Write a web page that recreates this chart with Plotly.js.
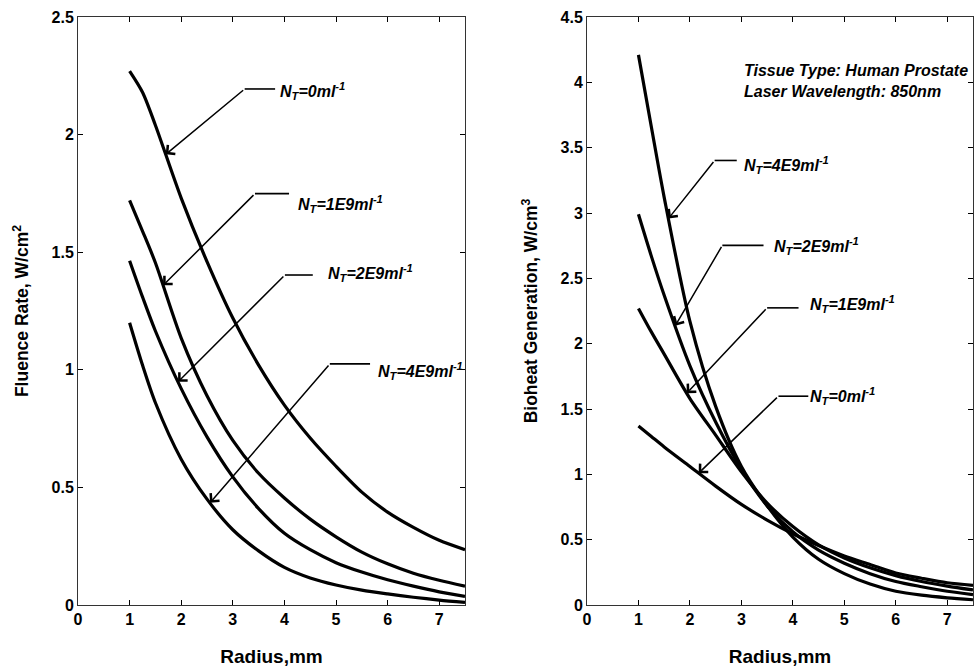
<!DOCTYPE html>
<html>
<head>
<meta charset="utf-8">
<script src="https://cdn.plot.ly/plotly-3.0.1.min.js"></script>
<style>
html,body{margin:0;padding:0;background:#fff;}
#chart .xtick text, #chart .ytick text, #chart .x2tick text, #chart .y2tick text { font-weight: bold !important; }
</style>
</head>
<body>
<div id="chart" style="width:975px;height:671px;"></div>
<script>
// Radius (mm) at which both quantities are sampled
const radius = [1, 1.25, 1.5, 2, 2.5, 3, 3.5, 4, 4.5, 5, 5.5, 6, 6.5, 7, 7.5];

// Fluence rate, W/cm^2, for each tumour cell concentration N_T
const fluenceN0 = [2.27, 2.18, 2.04, 1.73, 1.46, 1.22, 1.02, 0.85, 0.71, 0.59, 0.48, 0.395, 0.33, 0.275, 0.235];
const fluenceN1 = [1.72, 1.59, 1.455, 1.135, 0.89, 0.70, 0.56, 0.455, 0.365, 0.29, 0.225, 0.175, 0.135, 0.105, 0.08];
const fluenceN2 = [1.464, 1.31, 1.165, 0.92, 0.715, 0.545, 0.41, 0.305, 0.235, 0.18, 0.14, 0.107, 0.08, 0.056, 0.037];
const fluenceN4 = [1.20, 1.02, 0.86, 0.62, 0.45, 0.32, 0.23, 0.16, 0.115, 0.085, 0.063, 0.047, 0.033, 0.021, 0.011];

// Bioheat generation, W/cm^3
const heatN0 = [1.37, 1.29, 1.21, 1.06, 0.91, 0.77, 0.65, 0.545, 0.455, 0.375, 0.31, 0.245, 0.205, 0.17, 0.15];
const heatN1 = [2.27, 2.09, 1.92, 1.58, 1.30, 1.02, 0.78, 0.60, 0.46, 0.36, 0.285, 0.225, 0.18, 0.145, 0.115];
const heatN2 = [2.99, 2.67, 2.37, 1.83, 1.40, 1.04, 0.76, 0.56, 0.42, 0.32, 0.24, 0.18, 0.14, 0.105, 0.08];
const heatN4 = [4.21, 3.66, 3.12, 2.17, 1.52, 1.06, 0.76, 0.52, 0.35, 0.24, 0.16, 0.105, 0.075, 0.055, 0.04];

// Text
const seriesLabels = {
  n0: 'N<sub>T</sub>=0ml<sup>-1</sup>',
  n1: 'N<sub>T</sub>=1E9ml<sup>-1</sup>',
  n2: 'N<sub>T</sub>=2E9ml<sup>-1</sup>',
  n4: 'N<sub>T</sub>=4E9ml<sup>-1</sup>'
};
const xTitle = 'Radius,mm';
const yTitleLeft = 'Fluence Rate, W/cm<sup>2</sup>';
const yTitleRight = 'Bioheat Generation, W/cm<sup>3</sup>';
const infoText = 'Tissue Type: Human Prostate<br>Laser Wavelength: 850nm';
const xTicks = [0, 1, 2, 3, 4, 5, 6, 7];
const yTicksLeft = [0, 0.5, 1, 1.5, 2, 2.5];
const yTicksRight = [0, 0.5, 1, 1.5, 2, 2.5, 3, 3.5, 4, 4.5];

const FONT = 'Liberation Sans, Arial, sans-serif';

function curve(y, xa, ya) {
  return {
    x: radius, y: y, xaxis: xa, yaxis: ya, type: 'scatter', mode: 'lines',
    line: {color: '#000', width: 3.2, shape: 'spline', smoothing: 0.8},
    hoverinfo: 'skip', showlegend: false
  };
}

const traces = [
  curve(fluenceN0, 'x', 'y'), curve(fluenceN1, 'x', 'y'),
  curve(fluenceN2, 'x', 'y'), curve(fluenceN4, 'x', 'y'),
  curve(heatN0, 'x2', 'y2'), curve(heatN1, 'x2', 'y2'),
  curve(heatN2, 'x2', 'y2'), curve(heatN4, 'x2', 'y2')
];

// value of a series at radius r (linear between samples)
function at(series, r) {
  for (let i = 0; i < radius.length - 1; i++) {
    if (r >= radius[i] && r <= radius[i + 1]) {
      const t = (r - radius[i]) / (radius[i + 1] - radius[i]);
      return series[i] + t * (series[i + 1] - series[i]);
    }
  }
  return series[series.length - 1];
}

// Callouts: arrow tip on the curve, elbow, end of the horizontal leader, label anchor
const callouts = [
  {ax: 'x', ay: 'y', s: fluenceN0, tip: 1.70, elbow: [3.23, 2.194], end: 3.82, text: [3.90, 2.185], label: seriesLabels.n0},
  {ax: 'x', ay: 'y', s: fluenceN1, tip: 1.65, elbow: [3.43, 1.749], end: 4.09, text: [4.25, 1.707], label: seriesLabels.n1},
  {ax: 'x', ay: 'y', s: fluenceN2, tip: 1.94, elbow: [4.01, 1.403], end: 4.55, text: [4.83, 1.41], label: seriesLabels.n2},
  {ax: 'x', ay: 'y', s: fluenceN4, tip: 2.56, elbow: [4.88, 1.025], end: 5.66, text: [5.80, 0.997], label: seriesLabels.n4},
  {ax: 'x2', ay: 'y2', s: heatN4, tip: 1.585, elbow: [2.48, 3.402], end: 2.91, text: [3.04, 3.369], label: seriesLabels.n4},
  {ax: 'x2', ay: 'y2', s: heatN2, tip: 1.715, elbow: [2.63, 2.752], end: 3.43, text: [3.62, 2.75], label: seriesLabels.n2},
  {ax: 'x2', ay: 'y2', s: heatN1, tip: 1.94, elbow: [3.50, 2.274], end: 4.11, text: [4.32, 2.30], label: seriesLabels.n1},
  {ax: 'x2', ay: 'y2', s: heatN0, tip: 2.17, elbow: [3.72, 1.598], end: 4.30, text: [4.32, 1.598], label: seriesLabels.n0}
];

const annotations = [];
const shapes = [];
callouts.forEach(c => {
  shapes.push({
    type: 'line', xref: c.ax, yref: c.ay,
    x0: c.elbow[0], y0: c.elbow[1], x1: c.end, y1: c.elbow[1],
    line: {color: '#000', width: 1.6}
  });
  annotations.push({
    xref: c.ax, yref: c.ay, x: c.tip, y: at(c.s, c.tip),
    axref: c.ax, ayref: c.ay, ax: c.elbow[0], ay: c.elbow[1],
    text: '', showarrow: true,
    arrowhead: 4, arrowsize: 1.5, arrowwidth: 1.5, arrowcolor: '#000', standoff: 0
  });
  annotations.push({
    xref: c.ax, yref: c.ay, x: c.text[0], y: c.text[1],
    text: '<b><i>' + c.label + '</i></b>', showarrow: false,
    xanchor: 'left', yanchor: 'middle', borderpad: 0,
    font: {family: FONT, size: 16, color: '#000'}
  });
});
annotations.push({
  xref: 'x2', yref: 'y2', x: 3.04, y: 4.01, xanchor: 'left', yanchor: 'middle', align: 'left',
  text: '<b><i>' + infoText + '</i></b>', showarrow: false, borderpad: 0,
  font: {family: FONT, size: 16, color: '#000'}
});

function xAxis(domain, anchor) {
  return {
    domain: domain, anchor: anchor, range: [0, 7.5],
    tickmode: 'array', tickvals: xTicks,
    ticks: 'inside', ticklen: 5, tickwidth: 1, tickcolor: '#000',
    showline: true, linecolor: '#333', linewidth: 1, mirror: 'ticks',
    showgrid: false, zeroline: false, automargin: false,
    tickfont: {family: FONT, size: 16, color: '#000', weight: 'bold'},
    title: {text: '<b>' + xTitle + '</b>', standoff: 22, font: {family: FONT, size: 19, color: '#000'}}
  };
}
function yAxis(range, ticks, title, anchor) {
  return {
    anchor: anchor, domain: [0, 1], range: range,
    tickmode: 'array', tickvals: ticks,
    ticks: 'inside', ticklen: 5, tickwidth: 1, tickcolor: '#000',
    showline: true, linecolor: '#333', linewidth: 1, mirror: 'ticks',
    showgrid: false, zeroline: false, automargin: false,
    tickfont: {family: FONT, size: 16, color: '#000', weight: 'bold'},
    title: {text: '<b>' + title + '</b>', standoff: 18, font: {family: FONT, size: 17.5, color: '#000'}}
  };
}

const layout = {
  width: 975, height: 671,
  margin: {l: 78, r: 2, t: 17, b: 66},
  paper_bgcolor: '#fff', plot_bgcolor: '#fff',
  showlegend: false,
  xaxis: xAxis([0, 0.4324], 'y'),
  yaxis: yAxis([0, 2.5], yTicksLeft, yTitleLeft, 'x'),
  xaxis2: xAxis([0.5687, 1], 'y2'),
  yaxis2: yAxis([0, 4.5], yTicksRight, yTitleRight, 'x2'),
  annotations: annotations,
  shapes: shapes
};

Plotly.newPlot('chart', traces, layout, {staticPlot: true, displayModeBar: false});
</script>
</body>
</html>
